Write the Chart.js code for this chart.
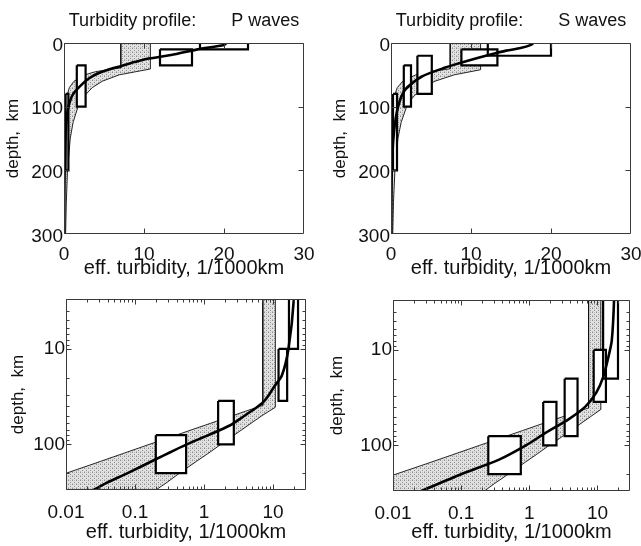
<!DOCTYPE html>
<html><head><meta charset="utf-8">
<script src="https://cdn.jsdelivr.net/npm/chart.js@4.4.1/dist/chart.umd.min.js"></script>
<style>
html,body{margin:0;padding:0;background:#fff;}
body{width:641px;height:546px;position:relative;overflow:hidden;}
canvas{position:absolute;}
</style></head><body>
<canvas id="tl" width="320" height="280" style="left:0;top:0"></canvas>
<canvas id="tr" width="321" height="280" style="left:320px;top:0"></canvas>
<canvas id="bl" width="320" height="266" style="left:0;top:280px"></canvas>
<canvas id="br" width="321" height="266" style="left:320px;top:280px"></canvas>
<script>
// ---------------- data ----------------
// best-fit turbidity profile (thick curve)
const pCurveDepth = [0, 3, 10, 19, 25, 30, 36, 42, 48, 55, 63, 80, 100, 120, 143, 200, 250, 300];
const pCurveTurb  = [20.3, 20.0, 16.7, 13.4, 10.3, 8.8, 7.2, 5.5, 4.2, 3.2, 2.4, 1.15, 0.56, 0.33, 0.2, 0.078, 0.04, 0.025];
const sCurveDepth = [0, 3, 8, 12, 19, 28, 39, 53, 74, 100, 141, 200, 300];
const sCurveTurb  = [17.8, 17.5, 16.2, 14.4, 12.2, 9.6, 6.7, 3.8, 1.73, 0.89, 0.36, 0.1, 0.026];

// observation boxes (depth range x turbidity range)
const pBoxTop    = [0, 10, 35, 80];
const pBoxBottom = [10, 35, 100, 200];
const pBoxLeft   = [17, 12, 1.6, 0.2];
const pBoxRight  = [23, 16, 2.7, 0.55];
const sBoxTop    = [0, 10, 20, 35, 80];
const sBoxBottom = [20, 35, 80, 100, 200];
const sBoxLeft   = [12.1, 8.8, 3.3, 1.6, 0.25];
const sBoxRight  = [20, 13.3, 5.1, 2.5, 0.75];

// uncertainty band: upper (left) and lower (right) bounding lines
const pBandLeftDepth  = [0, 39, 45, 50, 60, 70, 85, 100, 125, 150, 200, 300];
const pBandLeftTurb   = [7.1, 7.1, 3.95, 2.6, 1.25, 0.67, 0.31, 0.16, 0.066, 0.032, 0.0101, 0.002];
const pBandRightDepth = [0, 40.8, 50, 60, 70, 85, 100, 125, 150, 200, 250, 300];
const pBandRightTurb  = [10.8, 10.8, 6.9, 4.8, 3.54, 2.41, 1.75, 1.13, 0.78, 0.44, 0.29, 0.2];
const sBandLeftDepth  = [0, 40.5, 45, 50, 60, 70, 85, 100, 125, 150, 200, 300];
const sBandLeftTurb   = [7.4, 7.4, 4.75, 3.1, 1.47, 0.79, 0.36, 0.185, 0.075, 0.036, 0.011, 0.0021];
const sBandRightDepth = [0, 42, 50, 60, 70, 85, 100, 125, 150, 200, 250, 300];
const sBandRightTurb  = [11.2, 11.2, 7.9, 5.5, 4.0, 2.75, 1.95, 1.26, 0.87, 0.49, 0.31, 0.22];

// ticks
const linXTicks = [0, 10, 20, 30];
const linYTicks = [0, 100, 200, 300];
const logXTicks = [0.01, 0.1, 1, 10];
const logYTicks = [10, 100];

const titleP = 'Turbidity profile:       P waves';
const titleS = 'Turbidity profile:       S waves';
const xTitle = 'eff. turbidity, 1/1000km';
const yTitle = 'depth,  km';

// ---------------- helpers ----------------
Chart.defaults.font.family = '"Liberation Sans", Arial, Helvetica, sans-serif';
Chart.defaults.color = '#111';

function stipple() {
  const c = document.createElement('canvas'); c.width = 4; c.height = 4;
  const g = c.getContext('2d');
  g.fillStyle = '#e2e2e2'; g.fillRect(0, 0, 4, 4);
  g.fillStyle = '#8c8c8c'; g.fillRect(0, 0, 1, 1); g.fillRect(2, 2, 1, 1);
  g.fillStyle = '#b8b8b8'; g.fillRect(2, 0, 1, 1); g.fillRect(0, 3, 1, 1);
  return g.createPattern(c, 'repeat');
}
const pattern = stipple();

const framePlugin = {
  id: 'frame',
  afterDatasetsDraw(chart) {
    const {ctx, chartArea: a, scales: {x, y}} = chart;
    const L = Math.round(a.left) + 0.5, R = Math.round(a.right) - 0.5;
    const T = Math.round(a.top) + 0.5, B = Math.round(a.bottom) - 0.5;
    ctx.save();
    ctx.strokeStyle = '#3a3a3a'; ctx.lineWidth = 1;
    ctx.beginPath();
    ctx.rect(L, T, R - L, B - T);
    const tickX = (v, len) => {
      const px = Math.round(x.getPixelForValue(v)) + 0.5;
      if (px < L - 0.1 || px > R + 0.1) return;
      ctx.moveTo(px, B); ctx.lineTo(px, B - len);
      ctx.moveTo(px, T); ctx.lineTo(px, T + len);
    };
    const tickY = (v, len) => {
      const py = Math.round(y.getPixelForValue(v)) + 0.5;
      if (py < T - 0.1 || py > B + 0.1) return;
      ctx.moveTo(L, py); ctx.lineTo(L + len, py);
      ctx.moveTo(R, py); ctx.lineTo(R - len, py);
    };
    const minors = (scale, fn) => {
      for (let d = Math.floor(Math.log10(scale.min)); d <= Math.ceil(Math.log10(scale.max)); d++) {
        for (let m = 1; m <= 9; m++) {
          const v = m * Math.pow(10, d);
          if (v >= scale.min && v <= scale.max) fn(v, m === 1 ? 5 : 3);
        }
      }
    };
    if (x.type === 'logarithmic') minors(x, tickX); else x.ticks.forEach(t => tickX(t.value, 5));
    if (y.type === 'logarithmic') minors(y, tickY); else y.ticks.forEach(t => tickY(t.value, 5));
    ctx.stroke();
    ctx.restore();
  }
};

function pts(xs, ys, dmap) { return xs.map((v, i) => ({x: v, y: dmap(ys[i])})); }

function buildDatasets(curveD, curveT, bTop, bBot, bL, bR, lD, lT, rD, rT, isLog) {
  const dmap = isLog ? (d => d === 0 ? 1 : d) : (d => d);
  const ds = [];
  ds.push({data: pts(curveT, curveD, dmap), borderColor: '#000', borderWidth: 2.6, tension: 0.25, fill: false});
  const boxPts = i => [
    {x: bL[i], y: dmap(bTop[i])}, {x: bR[i], y: dmap(bTop[i])},
    {x: bR[i], y: dmap(bBot[i])}, {x: bL[i], y: dmap(bBot[i])}, {x: bL[i], y: dmap(bTop[i])}];
  for (let i = 0; i < bTop.length; i++)
    ds.push({data: boxPts(i), borderColor: '#000', borderWidth: 2.2, borderJoinStyle: 'miter', fill: false});
  for (let i = 0; i < bTop.length; i++)
    ds.push({data: boxPts(i), borderWidth: 0, borderColor: 'rgba(0,0,0,0)', backgroundColor: '#fff', fill: 'shape'});
  const band = pts(lT, lD, dmap).concat(pts(rT.slice().reverse(), rD.slice().reverse(), dmap));
  band.push(band[0]);
  ds.push({data: band, borderColor: '#111', borderWidth: 0.9, backgroundColor: pattern, fill: 'shape'});
  return ds;
}

function makeChart(id, o) {
  const isLog = o.log;
  const scaleCommon = () => ({
    grid: {display: false, drawTicks: false},
    border: {display: false},
  });
  new Chart(document.getElementById(id), {
    type: 'line',
    data: {datasets: buildDatasets(...o.data, isLog)},
    plugins: [framePlugin],
    options: {
      responsive: false, animation: false, devicePixelRatio: 1,
      layout: {padding: o.pad},
      elements: {point: {radius: 0}},
      plugins: {
        legend: {display: false}, tooltip: {enabled: false},
        title: o.title ? {display: true, text: o.title, fullSize: false, color: '#111',
          font: {size: 18, weight: 'normal'}, padding: {top: 10, bottom: 11.4}} : {display: false}
      },
      scales: {
        x: Object.assign(scaleCommon(), {
          type: isLog ? 'logarithmic' : 'linear',
          min: isLog ? 0.01 : 0, max: 30,
          ticks: {autoSkip: false, maxRotation: 0, padding: o.xTickPad, font: {size: 19}, color: '#111',
            callback: v => String(v)},
          title: {display: true, text: xTitle, font: {size: 20}, color: '#111', padding: {top: 0, bottom: 0}},
          afterBuildTicks: s => { s.ticks = (isLog ? logXTicks : linXTicks).map(v => ({value: v})); },
          afterFit: s => { s.height = o.hx; s.paddingLeft = 0; s.paddingRight = 0; s.paddingTop = 0; s.paddingBottom = 0; }
        }),
        y: Object.assign(scaleCommon(), {
          type: isLog ? 'logarithmic' : 'linear',
          reverse: true,
          min: isLog ? 3 : 0, max: 300,
          ticks: {autoSkip: false, padding: 1, labelOffset: o.yLabelOffset, font: {size: 19}, color: '#111', callback: v => String(v)},
          title: {display: true, text: yTitle, font: {size: 17}, color: '#111', padding: {top: o.yTitlePad, bottom: 0}},
          afterBuildTicks: s => { s.ticks = (isLog ? logYTicks : linYTicks).map(v => ({value: v})); },
          afterFit: s => { s.width = o.wy; s.paddingLeft = 0; s.paddingRight = 0; s.paddingTop = 0; s.paddingBottom = 0; }
        })
      }
    }
  });
}

makeChart('tl', {log: false, title: titleP, pad: {left: 0, right: 16, top: 0, bottom: 0}, wy: 64, hx: 46, xTickPad: 9, yTitlePad: 3, yLabelOffset: 2.5,
  data: [pCurveDepth, pCurveTurb, pBoxTop, pBoxBottom, pBoxLeft, pBoxRight, pBandLeftDepth, pBandLeftTurb, pBandRightDepth, pBandRightTurb]});
makeChart('tr', {log: false, title: titleS, pad: {left: 7, right: 10, top: 0, bottom: 0}, wy: 64, hx: 46, xTickPad: 9, yTitlePad: 3, yLabelOffset: 2.5,
  data: [sCurveDepth, sCurveTurb, sBoxTop, sBoxBottom, sBoxLeft, sBoxRight, sBandLeftDepth, sBandLeftTurb, sBandRightDepth, sBandRightTurb]});
makeChart('bl', {log: true, title: null, pad: {left: 0, right: 14, top: 19, bottom: 2}, wy: 66, hx: 54, xTickPad: 11, yTitlePad: 8, yLabelOffset: 0,
  data: [pCurveDepth, pCurveTurb, pBoxTop, pBoxBottom, pBoxLeft, pBoxRight, pBandLeftDepth, pBandLeftTurb, pBandRightDepth, pBandRightTurb]});
makeChart('br', {log: true, title: null, pad: {left: 7, right: 11, top: 20, bottom: 2}, wy: 66, hx: 53, xTickPad: 11, yTitlePad: 0, yLabelOffset: 0,
  data: [sCurveDepth, sCurveTurb, sBoxTop, sBoxBottom, sBoxLeft, sBoxRight, sBandLeftDepth, sBandLeftTurb, sBandRightDepth, sBandRightTurb]});
</script>
</body></html>
